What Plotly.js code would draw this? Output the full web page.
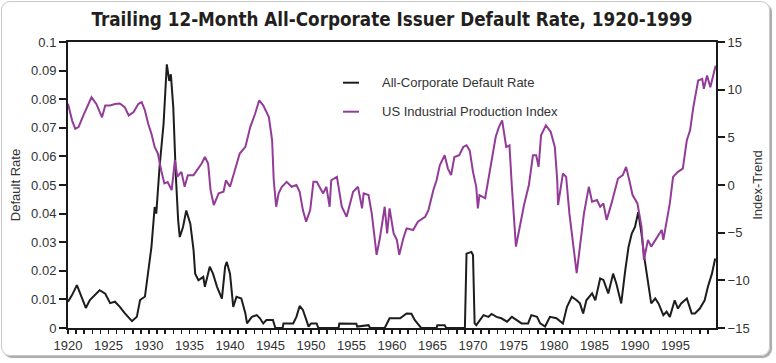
<!DOCTYPE html>
<html>
<head>
<meta charset="utf-8">
<script src="https://cdn.plot.ly/plotly-3.0.1.min.js"></script>
<style>
  html, body { margin: 0; padding: 0; background: #ffffff; }
  #wrap { position: relative; width: 776px; height: 363px; overflow: hidden; }
  #chart { position: absolute; left: 0; top: 0; width: 776px; height: 363px; }
  #frame { position: absolute; left: 1px; top: 1px; width: 767px; height: 353px;
           border: 1px solid #c9c9c9; border-radius: 9px;
           box-shadow: 2px 2px 1px #a9a9a9; pointer-events: none; }
</style>
</head>
<body>
<div id="wrap">
  <div id="chart"></div>
  <div id="frame"></div>
</div>
<script>
// ---- Data ----
const defaultYears = [1920.0,1920.5,1921.1,1921.7,1922.2,1922.7,1923.3,1923.9,1924.6,1925.2,1925.8,1926.4,1927.0,1927.9,1928.5,1928.9,1929.5,1929.9,1930.3,1930.7,1930.9,1931.3,1931.8,1932.2,1932.5,1932.7,1933.0,1933.3,1933.6,1933.8,1934.2,1934.6,1935.1,1935.5,1935.7,1936.1,1936.7,1936.9,1937.5,1937.9,1938.4,1939.0,1939.4,1939.6,1940.0,1940.4,1940.8,1941.4,1941.9,1942.1,1942.7,1943.3,1943.7,1944.1,1944.5,1945.3,1945.6,1946.5,1946.6,1947.8,1948.2,1948.6,1949.0,1949.4,1949.7,1950.0,1950.7,1950.9,1953.4,1953.5,1955.6,1955.7,1957.1,1957.3,1959.1,1959.7,1961.0,1961.8,1962.4,1962.8,1963.4,1963.6,1965.5,1965.6,1966.5,1966.7,1969.0,1969.2,1969.8,1970.0,1970.2,1970.4,1971.3,1971.9,1972.3,1972.9,1973.5,1974.2,1974.8,1975.4,1976.0,1976.8,1977.2,1977.9,1978.3,1978.9,1979.5,1980.3,1981.1,1981.6,1982.2,1982.8,1983.2,1983.6,1984.0,1984.7,1985.1,1985.7,1986.1,1986.7,1987.3,1987.7,1988.3,1988.8,1989.2,1989.6,1990.0,1990.4,1990.8,1991.2,1991.6,1992.0,1992.5,1992.9,1993.5,1993.9,1994.3,1994.9,1995.3,1995.7,1996.4,1997.0,1997.4,1998.0,1998.6,1999.0,1999.5,1999.9];
const defaultRate = [0.0092,0.0115,0.0150,0.0109,0.0070,0.0098,0.0115,0.0132,0.0120,0.0087,0.0092,0.0074,0.0052,0.0024,0.0039,0.0098,0.0110,0.0190,0.0283,0.0423,0.0400,0.0562,0.0714,0.0922,0.0864,0.0887,0.0770,0.0540,0.0376,0.0318,0.0353,0.0411,0.0365,0.0272,0.0190,0.0167,0.0179,0.0144,0.0214,0.0190,0.0144,0.0103,0.0214,0.0231,0.0190,0.0074,0.0109,0.0103,0.0051,0.0016,0.0039,0.0045,0.0034,0.0016,0.0028,0.0028,0.0000,0.0000,0.0016,0.0016,0.0039,0.0077,0.0063,0.0030,0.0005,0.0016,0.0016,0.0000,0.0000,0.0016,0.0015,0.0005,0.0010,0.0000,0.0000,0.0034,0.0034,0.0051,0.0050,0.0028,0.0005,0.0000,0.0000,0.0010,0.0010,0.0000,0.0000,0.0260,0.0266,0.0255,0.0016,0.0010,0.0045,0.0039,0.0049,0.0039,0.0034,0.0022,0.0039,0.0028,0.0016,0.0016,0.0045,0.0039,0.0016,0.0005,0.0039,0.0034,0.0016,0.0074,0.0109,0.0097,0.0086,0.0051,0.0097,0.0121,0.0097,0.0173,0.0168,0.0121,0.0190,0.0155,0.0086,0.0202,0.0283,0.0330,0.0353,0.0405,0.0330,0.0237,0.0168,0.0086,0.0103,0.0086,0.0045,0.0057,0.0039,0.0097,0.0068,0.0086,0.0103,0.0051,0.0051,0.0068,0.0097,0.0144,0.0190,0.0243];

const ipYears = [1920.0,1920.5,1920.9,1921.3,1921.9,1922.3,1922.9,1923.5,1924.2,1924.6,1925.2,1925.8,1926.4,1927.0,1927.5,1928.1,1928.7,1929.1,1929.5,1929.9,1930.3,1930.7,1931.1,1931.5,1931.9,1932.3,1932.8,1933.2,1933.5,1933.8,1934.0,1934.4,1934.8,1935.5,1935.9,1936.5,1936.9,1937.3,1937.6,1938.0,1938.6,1939.2,1939.5,1940.0,1940.6,1941.2,1941.9,1942.5,1943.1,1943.6,1944.1,1944.8,1945.2,1945.4,1945.7,1946.0,1946.4,1947.0,1947.6,1948.2,1948.6,1949.0,1949.4,1949.9,1950.3,1950.7,1951.5,1951.9,1952.3,1952.5,1953.2,1953.8,1954.4,1955.2,1955.8,1956.3,1956.5,1957.1,1957.5,1958.1,1958.5,1958.9,1959.1,1959.4,1959.7,1960.2,1960.6,1960.9,1961.4,1961.8,1962.6,1963.2,1964.1,1964.5,1965.1,1965.5,1965.9,1966.5,1966.9,1967.3,1967.7,1968.3,1968.8,1969.2,1969.6,1970.0,1970.4,1970.6,1970.8,1971.5,1971.9,1972.3,1972.8,1973.2,1973.6,1974.1,1974.5,1974.8,1975.3,1975.7,1976.3,1976.9,1977.4,1977.8,1978.1,1978.4,1979.0,1979.6,1980.1,1980.4,1980.5,1981.1,1981.5,1981.9,1982.5,1982.8,1983.1,1983.7,1984.3,1984.7,1985.3,1985.7,1986.1,1986.5,1987.1,1987.5,1987.9,1988.5,1988.9,1989.3,1989.7,1990.3,1990.8,1991.1,1991.6,1992.0,1992.6,1993.3,1993.5,1993.9,1994.3,1994.7,1995.3,1995.9,1996.4,1996.8,1997.2,1997.8,1998.3,1998.5,1998.9,1999.3,1999.7,1999.95];
const ipIndex = [8.52,6.78,5.90,6.08,7.30,8.00,9.20,8.50,7.10,8.35,8.35,8.50,8.55,8.17,7.30,7.65,8.52,8.70,7.82,6.43,5.38,3.99,3.30,1.55,0.16,0.30,-0.54,2.60,0.85,1.20,1.38,-0.19,1.03,1.03,1.55,2.25,2.94,2.25,-0.54,-2.10,-0.88,-0.71,0.50,-0.19,1.55,3.30,4.00,6.08,7.47,8.87,8.35,7.13,4.69,0.50,-2.28,-0.88,-0.19,0.33,-0.19,0.00,-0.71,-2.63,-3.85,-2.63,0.33,0.33,-0.88,-0.19,-2.28,0.50,0.85,-2.28,-3.33,-0.71,-0.19,-2.45,-0.88,-1.05,-2.98,-7.33,-5.59,-3.33,-2.28,-5.07,-2.45,-5.07,-5.76,-7.33,-5.59,-4.55,-4.72,-3.85,-3.33,-2.63,-0.54,0.50,2.07,3.12,1.72,1.03,2.94,3.12,3.99,4.16,3.60,1.38,-0.19,-2.45,-1.05,-1.39,0.50,2.25,5.03,6.08,6.78,3.99,4.16,-0.19,-6.46,-4.72,-2.10,0.00,3.12,3.12,1.90,5.21,6.25,5.56,3.99,0.50,-2.10,1.20,0.85,-2.98,-7.16,-9.24,-7.16,-2.98,-0.19,-1.75,-1.58,-2.28,-1.93,-3.67,-1.93,-0.71,0.68,1.03,1.90,0.50,-1.05,-1.93,-4.37,-7.85,-5.76,-6.46,-5.59,-4.72,-5.76,-3.67,-1.93,0.85,1.38,1.72,4.69,5.73,8.17,10.96,11.13,10.09,11.48,10.26,11.65,12.52];

const seriesNames = ['All-Corporate Default Rate', 'US Industrial Production Index'];
const leftTickVals = [0,0.01,0.02,0.03,0.04,0.05,0.06,0.07,0.08,0.09,0.1];
const leftTickText = ['0','0.01','0.02','0.03','0.04','0.05','0.06','0.07','0.08','0.09','0.1'];
const rightTickVals = [-15,-10,-5,0,5,10,15];
const xTickYears = [];
for (let y = 1920; y <= 1999; y++) xTickYears.push(y);
const xTickText = xTickYears.map(y => (y % 5 === 0 ? String(y) : ''));

// ---- Styling ----
const BLACK = '#1e1c1c';
const PURPLE = '#923c98';
const FONT = 'Liberation Sans, Arial, Helvetica, sans-serif';
const NARROW = 'DejaVu Sans Condensed, Liberation Sans Narrow, Arial Narrow, sans-serif';

const traces = [
  { x: ipYears, y: ipIndex, yaxis: 'y2', type: 'scatter', mode: 'lines',
    name: seriesNames[1], line: { color: PURPLE, width: 2 }, showlegend: false },
  { x: defaultYears, y: defaultRate, yaxis: 'y', type: 'scatter', mode: 'lines',
    name: seriesNames[0], line: { color: BLACK, width: 2 }, showlegend: false }
];

const axisCommon = {
  showgrid: false, zeroline: false, showline: true, linecolor: '#1a1a1a', linewidth: 2,
  ticks: 'outside', tickcolor: '#1a1a1a', tickwidth: 2,
  tickfont: { family: FONT, size: 13, color: '#333333' }
};

const layout = {
  width: 776, height: 363,
  margin: { l: 68, r: 60, t: 42, b: 35, pad: 0 },
  paper_bgcolor: '#ffffff', plot_bgcolor: '#ffffff',
  title: {
    text: 'Trailing 12-Month All-Corporate Issuer Default Rate, 1920-1999',
    font: { family: NARROW, size: 18.7, color: '#231f20', weight: 700 },
    xref: 'paper', x: 0.5, xanchor: 'center',
    yref: 'container', y: 1 - 19 / 363, yanchor: 'middle'
  },
  xaxis: Object.assign({}, axisCommon, {
    range: [1920, 2000], tickmode: 'array', tickvals: xTickYears, ticktext: xTickText,
    ticklen: 4, tickwidth: 1.5, mirror: true
  }),
  yaxis: Object.assign({}, axisCommon, {
    range: [0, 0.1], tickmode: 'array', tickvals: leftTickVals, ticktext: leftTickText,
    ticklen: 7,
    title: { text: 'Default Rate', font: { family: FONT, size: 13, color: '#333333' }, standoff: 8 }
  }),
  yaxis2: Object.assign({}, axisCommon, {
    range: [-15, 15], overlaying: 'y', side: 'right', anchor: 'x',
    tickmode: 'array', tickvals: rightTickVals, ticklen: 7,
    title: { text: 'Index-Trend', font: { family: FONT, size: 13, color: '#333333' }, standoff: 4 }
  }),
  shapes: [
    { type: 'line', xref: 'paper', yref: 'paper', x0: (343 - 68) / 648, x1: (359 - 68) / 648,
      y0: (328 - 82.7) / 286, y1: (328 - 82.7) / 286, line: { color: BLACK, width: 2 } },
    { type: 'line', xref: 'paper', yref: 'paper', x0: (343 - 68) / 648, x1: (359 - 68) / 648,
      y0: (328 - 111.7) / 286, y1: (328 - 111.7) / 286, line: { color: PURPLE, width: 2 } }
  ],
  annotations: [
    { xref: 'paper', yref: 'paper', x: (380 - 68) / 648, y: (328 - 82.7) / 286,
      xanchor: 'left', yanchor: 'middle', showarrow: false, text: seriesNames[0],
      font: { family: FONT, size: 13, color: '#333333' } },
    { xref: 'paper', yref: 'paper', x: (380 - 68) / 648, y: (328 - 111.7) / 286,
      xanchor: 'left', yanchor: 'middle', showarrow: false, text: seriesNames[1],
      font: { family: FONT, size: 13, color: '#333333' } }
  ]
};

Plotly.newPlot('chart', traces, layout, { staticPlot: true, displayModeBar: false });
</script>
</body>
</html>
